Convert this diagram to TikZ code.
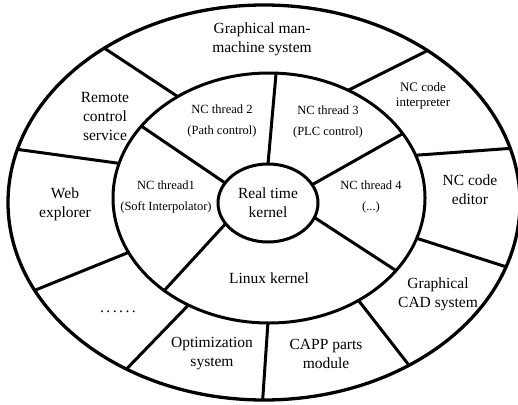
\documentclass[tikz,border=0pt]{standalone}
\usepackage{fontspec}
\setmainfont{Liberation Serif}
\usetikzlibrary{calc}
\begin{document}
\begin{tikzpicture}[x=1pt,y=-1pt,
  ring/.style={line width=3pt},
  spoke/.style={line width=3pt},
  outerlbl/.style={align=center,font=\fontsize{15.5}{19}\selectfont,inner sep=0pt},
  smalllbl/.style={align=center,font=\fontsize{13}{15}\selectfont,inner sep=0pt},
  innerlbl/.style={align=center,font=\fontsize{12.5}{14}\selectfont,inner sep=0pt},
  kernlbl/.style={align=center,font=\fontsize{15.5}{19}\selectfont,inner sep=0pt}]
\useasboundingbox (0,0) rectangle (518,404);
\fill[white] (0,0) rectangle (518,404);
% centres
\coordinate (O) at (264,202.5);
\coordinate (M) at (269,198);
\coordinate (I) at (268,203);
% outer ring spoke ends
\coordinate (o1) at ($(O)+(231.4:256 and 197.5)$);
\coordinate (m1) at ($(M)+(234.2:156 and 125)$);
\coordinate (o2) at ($(O)+(195.6:256 and 197.5)$);
\coordinate (m2) at ($(M)+(196.1:156 and 125)$);
\coordinate (o3) at ($(O)+(153.6:256 and 197.5)$);
\coordinate (m3) at ($(M)+(154.2:156 and 125)$);
\coordinate (o4) at ($(O)+(122.5:256 and 197.5)$);
\coordinate (m4) at ($(M)+(121.1:156 and 125)$);
\coordinate (o5) at ($(O)+(90.3:256 and 197.5)$);
\coordinate (m5) at ($(M)+(90.4:156 and 125)$);
\coordinate (o6) at ($(O)+(55.5:256 and 197.5)$);
\coordinate (m6) at ($(M)+(55:156 and 125)$);
\coordinate (o7) at ($(O)+(19:256 and 197.5)$);
\coordinate (m7) at ($(M)+(18.8:156 and 125)$);
\coordinate (o8) at ($(O)+(-15.9:256 and 197.5)$);
\coordinate (m8) at ($(M)+(-20:156 and 125)$);
\coordinate (o9) at ($(O)+(-50.3:256 and 197.5)$);
\coordinate (m9) at ($(M)+(-59.5:156 and 125)$);
% inner ring spoke ends
\coordinate (ma) at ($(M)+(215.1:156 and 125)$);
\coordinate (ia) at ($(I)+(210.9:50 and 39)$);
\coordinate (mb) at ($(M)+(-87.4:156 and 125)$);
\coordinate (ib) at ($(I)+(-90:50 and 39)$);
\coordinate (mc) at ($(M)+(-31:156 and 125)$);
\coordinate (ic) at ($(I)+(-28:50 and 39)$);
\coordinate (md) at ($(M)+(35.5:156 and 125)$);
\coordinate (id) at ($(I)+(21.8:50 and 39)$);
\coordinate (me) at ($(M)+(132.2:156 and 125)$);
\coordinate (ie) at ($(I)+(148:50 and 39)$);
% spokes
\foreach \k in {1,...,9} {\draw[spoke] (o\k) -- (m\k);}
\foreach \k in {a,b,c,d,e} {\draw[spoke] (m\k) -- (i\k);}
% rings
\draw[ring,line width=3.3pt] (O) ellipse [x radius=256pt, y radius=197.5pt];
\draw[ring] (M) ellipse [x radius=156pt, y radius=125pt];
\draw[ring] (I) ellipse [x radius=50pt, y radius=39pt];
% outer labels
\node[outerlbl] (gmm) at (262,39) {Graphical man-\\machine system};
\node[smalllbl] (nci) at (423,96) {NC code\\interpreter};
\node[outerlbl] (nce) at (470,190) {NC code\\editor};
\node[outerlbl] (cad) at (438,294) {Graphical\\CAD system};
\node[outerlbl] (capp) at (326,354) {CAPP parts\\module};
\node[outerlbl] (opt) at (212,354) {Optimization\\system};
\node[outerlbl] (dots) at (118,312) {.\kern2.5pt.\kern2.5pt.\kern2.5pt.\kern2.5pt.\kern2.5pt.};
\node[outerlbl] (web) at (65,204) {Web\\explorer};
\node[outerlbl] (rcs) at (105,116) {Remote\\control\\service};
% inner labels
\node[innerlbl] (t2) at (222,121) {NC thread 2\\[7pt](Path control)};
\node[innerlbl] (t3) at (328,122) {NC thread 3\\[7pt](PLC control)};
\node[innerlbl] (t4) at (371,197) {NC thread 4\\[7pt](...)};
\node[innerlbl] (t1) at (166,197) {NC thread1\\[7pt](Soft Interpolator)};
\node[outerlbl] (lk) at (269,278) {Linux kernel};
\node[kernlbl] (rtk) at (268,203) {Real time\\kernel};
\end{tikzpicture}
\end{document}
